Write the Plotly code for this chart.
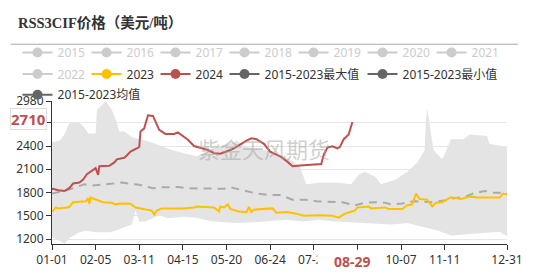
import plotly.graph_objects as go

# ---------------- data ----------------
tick_days = [0, 35, 70, 105, 140, 175, 210, 245, 280, 315, 365]
tick_labels = ['01-01', '02-05', '03-11', '04-15', '05-20', '06-24', '07-29',
               '', '10-07', '11-11', '12-31']

days_2024 = [0, 1, 5, 10, 14, 17, 22, 25, 28, 34, 35, 37, 38, 46, 50, 52, 58, 60, 63, 68,
             70, 71, 74, 75, 77, 81, 84, 86, 91, 98, 101, 104, 109, 114, 117, 125, 130, 135, 143, 148,
             156, 160, 164, 170, 175, 183, 188, 193, 199, 209, 216, 218, 221, 225, 229, 231, 234, 238, 241]
vals_2024 = [1840, 1848, 1830, 1820, 1860, 1917, 1929, 1968, 2037, 2109, 2115, 2028, 2140, 2145, 2188, 2228, 2248, 2277, 2328, 2368,
             2388, 2588, 2628, 2688, 2796, 2788, 2688, 2608, 2556, 2556, 2576, 2540, 2480, 2400, 2388, 2348, 2308, 2300, 2348, 2388,
             2468, 2500, 2488, 2428, 2328, 2268, 2208, 2140, 2148, 2156, 2168, 2288, 2380, 2396, 2368, 2388, 2488, 2548, 2710]

days_2023 = [0, 1, 3, 5, 12, 14, 17, 27, 29, 30, 31, 35, 41, 48, 51, 55, 63, 67, 75, 80,
             82, 84, 88, 98, 105, 114, 116, 130, 134, 135, 138, 141, 143, 150, 156, 158, 160, 162, 172, 177,
             180, 188, 196, 202, 214, 225, 230, 235, 243, 245, 254, 256, 267, 270, 281, 285, 289, 292, 295, 301,
             305, 308, 313, 320, 328, 335, 341, 359, 362, 365]
vals_2023 = [1560, 1568, 1608, 1596, 1608, 1616, 1676, 1688, 1728, 1656, 1736, 1708, 1676, 1668, 1648, 1660, 1656, 1608, 1588, 1568,
             1516, 1568, 1596, 1596, 1596, 1608, 1620, 1608, 1556, 1620, 1608, 1648, 1588, 1556, 1548, 1616, 1548, 1580, 1588, 1596,
             1540, 1548, 1528, 1500, 1508, 1500, 1476, 1528, 1568, 1608, 1620, 1596, 1608, 1588, 1588, 1636, 1648, 1788, 1716, 1708,
             1620, 1668, 1676, 1740, 1716, 1748, 1736, 1736, 1788, 1776]

days_mean = [0, 12, 19, 26, 31, 38, 47, 56, 70, 81, 88, 96, 101, 109, 125, 138, 143, 150, 164, 175,
             183, 193, 204, 212, 222, 233, 243, 251, 260, 267, 272, 281, 285, 291, 305, 316, 322, 330, 338, 347,
             355, 365]
vals_mean = [1788, 1828, 1868, 1908, 1888, 1900, 1916, 1928, 1900, 1856, 1868, 1868, 1872, 1856, 1848, 1848, 1868, 1840, 1788, 1768,
             1768, 1708, 1708, 1688, 1680, 1676, 1636, 1668, 1676, 1668, 1648, 1660, 1676, 1688, 1676, 1700, 1728, 1740, 1788, 1820,
             1796, 1796]

days_max = [0, 6, 10, 13, 15, 22, 26, 29, 35, 36, 43, 48, 51, 54, 58, 64, 70, 75, 83, 96,
            106, 116, 127, 135, 143, 148, 156, 170, 183, 193, 199, 204, 214, 230, 240, 246, 251, 259, 264, 276,
            285, 293, 299, 300, 301, 303, 306, 313, 316, 320, 330, 335, 349, 351, 365]
vals_max = [2448, 2468, 2548, 2668, 2708, 2700, 2640, 2560, 2560, 2860, 2980, 2868, 2748, 2588, 2588, 2516, 2488, 2470, 2428, 2348,
            2308, 2268, 2348, 2396, 2428, 2468, 2388, 2348, 2288, 2208, 2128, 1908, 1928, 1928, 1908, 2028, 2068, 2008, 1908, 1968,
            2068, 2188, 2348, 2748, 2888, 2668, 2348, 2228, 2328, 2488, 2488, 2548, 2528, 2428, 2388]

days_min = [0, 5, 10, 13, 15, 22, 27, 35, 46, 51, 58, 64, 67, 70, 75, 80, 86, 93, 106, 116,
            122, 130, 148, 162, 175, 188, 201, 214, 227, 246, 256, 272, 285, 299, 310, 320, 335, 346, 359, 365]
vals_min = [1228, 1188, 1140, 1196, 1228, 1288, 1308, 1288, 1288, 1308, 1348, 1388, 1568, 1428, 1428, 1468, 1508, 1468, 1488, 1476,
            1448, 1428, 1408, 1416, 1428, 1448, 1428, 1448, 1428, 1408, 1396, 1388, 1408, 1348, 1308, 1248, 1268, 1288, 1296, 1236]

y_ticks = [1200, 1500, 1800, 2100, 2400, 2700, 2980]
y_labels = ['1200', '1500', '1800', '2100', '2400', '', '2980']

hidden_years = ['2015', '2016', '2017', '2018', '2019', '2020', '2021', '2022']
latest_day = 241
latest_label = '08-29'
latest_value = 2710

# ---------------- style ----------------
RED = '#c0504d'
YEL = '#ffc000'
DARK = '#666666'
LIGHT = '#cccccc'
FONT = 'Noto Sans, Noto Sans CJK SC, sans-serif'

fig = go.Figure()

# band
fig.add_trace(go.Scatter(x=days_min, y=vals_min, mode='lines', line=dict(width=0, color='#e4e4e4'),
                         showlegend=False, hoverinfo='skip'))
fig.add_trace(go.Scatter(x=days_max, y=vals_max, mode='lines', line=dict(width=0, color='#e4e4e4'),
                         fill='tonexty', fillcolor='#e4e4e4', showlegend=False, hoverinfo='skip'))
fig.add_trace(go.Scatter(x=days_mean, y=vals_mean, mode='lines', line=dict(width=2, color='#aaaaaa', dash='8px,6px'),
                         showlegend=False))
fig.add_trace(go.Scatter(x=days_2023, y=vals_2023, mode='lines', line=dict(width=2, color=YEL), showlegend=False))
fig.add_trace(go.Scatter(x=days_2024, y=vals_2024, mode='lines', line=dict(width=2, color=RED), showlegend=False))

# legend entries
def leg(name, color, legend, width, textcolor=None):
    label = name if textcolor is None else f"<span style='color:{textcolor}'>{name}</span>"
    fig.add_trace(go.Scatter(x=[None], y=[None], mode='lines+markers', name=label,
                             line=dict(color=color, width=2), marker=dict(color=color, size=10),
                             legend=legend, legendwidth=width))

for yr in hidden_years[:7]:
    leg(yr, LIGHT, 'legend', 24, LIGHT)
leg(hidden_years[7], LIGHT, 'legend2', 24, LIGHT)
leg('2023', YEL, 'legend2', 24)
leg('2024', RED, 'legend2', 24)
leg('2015-2023最大值', DARK, 'legend2', 93)
leg('2015-2023最小值', DARK, 'legend2', 93)
leg('2015-2023均值', DARK, 'legend3', 93)

legend_common = dict(orientation='h', xanchor='left', yanchor='top', x=-0.0758, traceorder='normal',
                     font=dict(family=FONT, size=12, color='#333333'), bgcolor='rgba(0,0,0,0)',
                     itemwidth=30, entrywidth=24)

fig.update_layout(
    width=535, height=280,
    margin=dict(l=52, r=21, t=101, b=26),
    paper_bgcolor='white', plot_bgcolor='white',
    font=dict(family=FONT, size=12, color='#333333'),
    title=dict(text='<b>RSS3CIF价格（美元/吨）</b>', x=18 / 535, xref='container', xanchor='left',
               y=1 - 23 / 280, yref='container', yanchor='middle',
               font=dict(family='Liberation Serif, Noto Sans CJK SC, serif', size=14.5, color='#333333')),
    legend=dict(legend_common, y=1.44),
    legend2=dict(legend_common, y=1.29),
    legend3=dict(legend_common, y=1.145),
    xaxis=dict(range=[0, 365], tickvals=tick_days, ticktext=tick_labels, showgrid=False, zeroline=False,
               showline=True, linecolor='#333333', linewidth=1, ticks='outside', ticklen=5, tickcolor='#333333',
               tickfont=dict(size=12, color='#333333')),
    yaxis=dict(range=[1137, 2980], tickvals=y_ticks, ticktext=y_labels, showgrid=True, gridcolor='#e6e6e6',
               zeroline=False, showline=True, linecolor='#333333', linewidth=1, ticks='outside', ticklen=5,
               tickcolor='#333333', tickfont=dict(size=12, color='#333333')),
    showlegend=True,
)

# separator under title
fig.add_shape(type='line', xref='paper', yref='paper', x0=-0.0909, x1=1.0238, y0=1.397, y1=1.397,
              line=dict(color='#aaaaaa', width=1))

# white box behind the highlighted date label
fig.add_shape(type='rect', xref='x', yref='paper', x0=213, x1=266, y0=-0.04, y1=-0.17,
              fillcolor='white', line=dict(width=0), layer='above')

fig.add_annotation(x=latest_day, xref='x', y=0, yref='paper', yanchor='top', yshift=-6,
                   text=f'<b>{latest_label}</b>', showarrow=False,
                   font=dict(family=FONT, size=14, color=RED))

fig.add_annotation(x=0, xref='paper', xanchor='right', xshift=-5, y=latest_value, yref='y', yshift=3,
                   text=f'<b>{latest_value}</b>', showarrow=False, bgcolor='white',
                   bordercolor='#dddddd', borderwidth=1, borderpad=0,
                   font=dict(family=FONT, size=15, color=RED))

# watermark
fig.add_annotation(x=170, xref='x', y=0.798, yref='paper', text='紫金天风期货', showarrow=False,
                   font=dict(family='Noto Sans CJK SC, sans-serif', size=22, color='rgba(160,160,160,0.5)'))

fig.write_html('out.html')
